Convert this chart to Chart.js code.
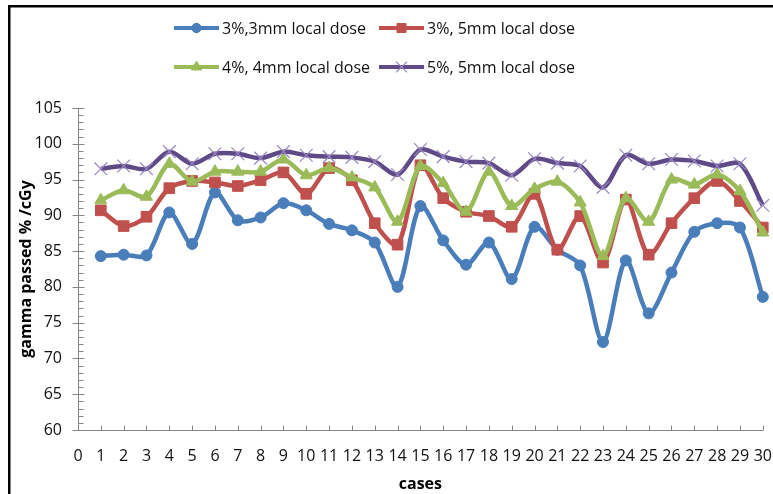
<!DOCTYPE html>
<html>
<head>
<meta charset="utf-8">
<script src="https://cdn.jsdelivr.net/npm/chart.js@4.4.1/dist/chart.umd.min.js"></script>
<style>
  html, body { margin: 0; padding: 0; background: #fff; }
  #wrap { width: 773px; height: 494px; }
</style>
</head>
<body>
<div id="wrap"><canvas id="gammaChart" width="773" height="494"></canvas></div>
<script>
// cases on the x axis
const cases = [1, 2, 3, 4, 5, 6, 7, 8, 9, 10, 11, 12, 13, 14, 15, 16, 17, 18, 19, 20, 21, 22, 23, 24, 25, 26, 27, 28, 29, 30];
const xTicks = [0, 1, 2, 3, 4, 5, 6, 7, 8, 9, 10, 11, 12, 13, 14, 15, 16, 17, 18, 19, 20, 21, 22, 23, 24, 25, 26, 27, 28, 29, 30];
const yTicks = [60, 65, 70, 75, 80, 85, 90, 95, 100, 105];

// gamma passed % per criterion
const gamma3_3 = [84.3, 84.5, 84.4, 90.4, 86.0, 93.2, 89.3, 89.7, 91.7, 90.7, 88.8, 87.9, 86.2, 80.0, 91.3, 86.5, 83.1, 86.2, 81.1, 88.4, 85.2, 83.0, 72.3, 83.7, 76.3, 82.0, 87.7, 88.9, 88.3, 78.6];
const gamma3_5 = [90.7, 88.5, 89.8, 93.8, 94.8, 94.6, 94.1, 94.9, 96.0, 93.0, 96.6, 94.9, 88.9, 85.9, 97.0, 92.4, 90.5, 89.9, 88.4, 93.0, 85.2, 89.9, 83.4, 92.2, 84.5, 88.9, 92.4, 94.8, 92.0, 88.3];
const gamma4_4 = [92.1, 93.5, 92.6, 97.2, 94.7, 96.1, 96.1, 96.1, 97.8, 95.6, 96.6, 95.3, 93.9, 89.1, 96.9, 94.5, 90.5, 96.1, 91.3, 93.7, 94.7, 91.8, 84.3, 92.4, 89.1, 95.0, 94.3, 95.7, 93.4, 87.6];
const gamma5_5 = [96.5, 96.9, 96.5, 98.9, 97.2, 98.6, 98.6, 98.0, 98.9, 98.4, 98.2, 98.1, 97.5, 95.7, 99.2, 98.2, 97.5, 97.3, 95.6, 97.9, 97.3, 96.9, 93.9, 98.4, 97.2, 97.8, 97.6, 96.9, 97.2, 91.4];

const seriesLabels = ["3%,3mm local dose", "3%, 5mm local dose", "4%, 4mm local dose", "5%, 5mm local dose"];

const FONT = '"Open Sans", "Liberation Sans", sans-serif';
const AXIS_GREY = "#868686";

function toPoints(values) {
  return values.map((v, i) => ({ x: cases[i], y: v }));
}

// black frame at top and left, like the cropped chart border
const framePlugin = {
  id: "frame",
  beforeDraw(chart) {
    const ctx = chart.ctx;
    ctx.save();
    ctx.fillStyle = "#fff";
    ctx.fillRect(0, 0, chart.width, chart.height);
    ctx.fillStyle = "#000";
    ctx.fillRect(8, 5, chart.width, 2.5);
    ctx.fillRect(8, 5, 2.5, chart.height);
    ctx.restore();
  }
};

// excel style tick marks: major ticks cross the y axis, minor ticks inside, x ticks point up
const tickPlugin = {
  id: "axisTicks",
  beforeDatasetsDraw(chart) {
    const { ctx, scales } = chart;
    const x = scales.x, y = scales.y;
    const axisX = Math.round(x.getPixelForValue(0)) + 0.5;
    const axisY = Math.round(y.getPixelForValue(y.min)) + 0.5;
    ctx.save();
    ctx.strokeStyle = AXIS_GREY;
    ctx.lineWidth = 1;
    ctx.beginPath();
    for (let v = y.min; v <= y.max; v++) {
      const py = Math.round(y.getPixelForValue(v)) + 0.5;
      if (yTicks.includes(v)) {
        ctx.moveTo(axisX - 6, py);
        ctx.lineTo(axisX + 6, py);
      } else {
        ctx.moveTo(axisX, py);
        ctx.lineTo(axisX + 5, py);
      }
    }
    xTicks.forEach(v => {
      if (v === x.min) return;
      const px = Math.round(x.getPixelForValue(v)) + 0.5;
      ctx.moveTo(px, axisY);
      ctx.lineTo(px, axisY - 5);
    });
    ctx.stroke();
    ctx.restore();
  }
};

// two-row legend with line sample and marker
const legendRows = [[0, 1], [2, 3]];
const legendPlugin = {
  id: "excelLegend",
  afterDraw(chart) {
    const ctx = chart.ctx;
    const sets = chart.data.datasets;
    const sample = 45, gap = 3, itemGap = 9;
    ctx.save();
    ctx.font = "16px " + FONT;
    ctx.textBaseline = "middle";
    const colW = [0, 1].map(c => Math.max(...legendRows.map(r => ctx.measureText(sets[r[c]].label).width)));
    const total = colW[0] + colW[1] + 2 * (sample + gap) + itemGap;
    const startX = Math.round(375 - total / 2);
    legendRows.forEach((row, ri) => {
      const y = 28 + ri * 39;
      let x = startX;
      row.forEach((di, ci) => {
        const ds = sets[di];
        ctx.strokeStyle = ds.borderColor;
        ctx.lineWidth = 4;
        ctx.lineCap = "butt";
        ctx.beginPath();
        ctx.moveTo(x, y);
        ctx.lineTo(x + sample, y);
        ctx.stroke();
        if (Chart.helpers && Chart.helpers.drawPoint) {
          ctx.fillStyle = ds.pointBackgroundColor;
          ctx.strokeStyle = ds.pointBorderColor;
          ctx.lineWidth = ds.pointBorderWidth;
          Chart.helpers.drawPoint(ctx, {
            pointStyle: ds.pointStyle,
            radius: ds.pointRadius * 0.85,
            rotation: 0,
            borderWidth: ds.pointBorderWidth
          }, x + sample / 2, y);
        }
        ctx.fillStyle = "#111";
        ctx.fillText(ds.label, x + sample + gap, y + 1);
        x += sample + gap + colW[ci] + itemGap;
      });
    });
    ctx.restore();
  }
};

const ctx = document.getElementById("gammaChart").getContext("2d");
new Chart(ctx, {
  type: "line",
  data: {
    datasets: [
      {
        label: seriesLabels[0],
        data: toPoints(gamma3_3),
        borderColor: "#4a7ebb",
        backgroundColor: "#4a7ebb",
        pointBackgroundColor: "#4a7ebb",
        pointBorderColor: "#4a7ebb",
        pointBorderWidth: 1,
        pointStyle: "circle",
        pointRadius: 5.5,
        borderWidth: 4.5,
        tension: 0.3,
        clip: false,
        order: 4
      },
      {
        label: seriesLabels[1],
        data: toPoints(gamma3_5),
        borderColor: "#c0504d",
        backgroundColor: "#c0504d",
        pointBackgroundColor: "#c0504d",
        pointBorderColor: "#c0504d",
        pointBorderWidth: 1,
        pointStyle: "rect",
        pointRadius: 7.5,
        borderWidth: 4.5,
        tension: 0.3,
        clip: false,
        order: 3
      },
      {
        label: seriesLabels[2],
        data: toPoints(gamma4_4),
        borderColor: "#9bbb59",
        backgroundColor: "#9bbb59",
        pointBackgroundColor: "#9bbb59",
        pointBorderColor: "#9bbb59",
        pointBorderWidth: 1,
        pointStyle: "triangle",
        pointRadius: 7,
        borderWidth: 4.5,
        tension: 0.3,
        clip: false,
        order: 2
      },
      {
        label: seriesLabels[3],
        data: toPoints(gamma5_5),
        borderColor: "#5e4a86",
        backgroundColor: "#5e4a86",
        pointBackgroundColor: "#9a86c4",
        pointBorderColor: "#9a86c4",
        pointBorderWidth: 1.2,
        pointStyle: "crossRot",
        pointRadius: 9,
        borderWidth: 4.5,
        tension: 0.3,
        clip: false,
        order: 1
      }
    ]
  },
  options: {
    responsive: false,
    animation: false,
    devicePixelRatio: 1,
    layout: {
      padding: { top: 108, left: 0, right: 8, bottom: 0 }
    },
    plugins: {
      legend: { display: false },
      tooltip: { enabled: false }
    },
    scales: {
      x: {
        type: "linear",
        min: 0,
        max: 30,
        afterBuildTicks: scale => { scale.ticks = xTicks.map(v => ({ value: v })); },
        afterFit: scale => {
          scale.height = 64;
          scale.paddingLeft = 0;
          scale.paddingRight = 0;
        },
        grid: { display: false, drawTicks: false },
        border: { color: AXIS_GREY, width: 1 },
        ticks: {
          autoSkip: false,
          maxRotation: 0,
          padding: 17,
          color: "#111",
          font: { family: FONT, size: 16 }
        },
        title: {
          display: true,
          text: "cases",
          color: "#000",
          padding: { top: 0, bottom: 0 },
          font: { family: FONT, size: 16, weight: "bold" }
        }
      },
      y: {
        min: 60,
        max: 105,
        afterBuildTicks: scale => { scale.ticks = yTicks.map(v => ({ value: v })); },
        afterFit: scale => { scale.width = 78; },
        grid: { display: false, drawTicks: false },
        border: { color: AXIS_GREY, width: 1 },
        ticks: {
          padding: 16,
          color: "#111",
          font: { family: FONT, size: 16 }
        },
        title: {
          display: true,
          text: "gamma passed % /cGy",
          color: "#000",
          padding: { top: 17, bottom: 0 },
          font: { family: FONT, size: 16, weight: "bold" }
        }
      }
    }
  },
  plugins: [framePlugin, tickPlugin, legendPlugin]
});
</script>
</body>
</html>
